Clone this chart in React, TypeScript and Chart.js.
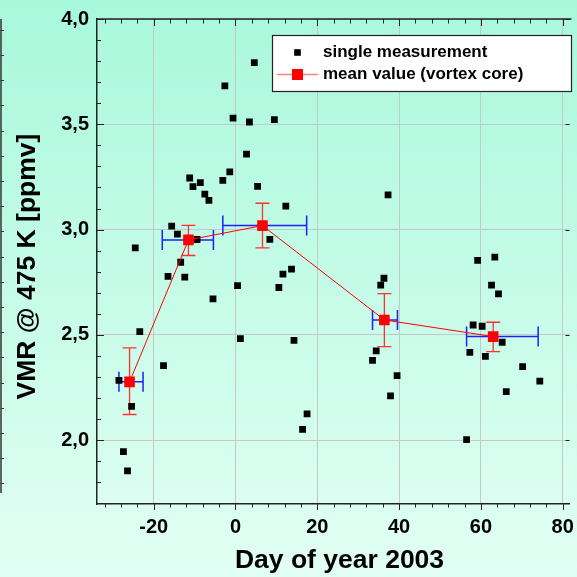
import React, { useEffect, useRef } from "react";
import { Chart, registerables } from "chart.js";

Chart.register(...registerables);

// ---- data ----
const singleDay = [
  -28.5, -27.4, -26.4, -25.4, -24.5, -23.4, -17.6, -16.5, -15.6, -14.2,
  -13.4, -12.4, -11.2, -10.4, -9.4, -8.6, -7.5, -6.5, -5.5, -3.1,
  -2.6, -1.4, -0.6, 0.5, 1.2, 2.7, 3.4, 4.6, 5.4, 8.4,
  9.5, 10.6, 11.6, 12.3, 13.7, 14.3, 16.4, 17.5, 33.5, 34.4,
  35.5, 36.3, 37.3, 37.9, 39.5, 56.5, 57.3, 58.1, 59.2, 60.3,
  61.1, 62.6, 63.4, 64.3, 65.2, 66.2, 70.2, 74.4,
];
const singleVmr = [
  2.284, 1.946, 1.854, 2.161, 2.913, 2.516, 2.354, 2.778, 3.016, 2.978,
  2.845, 2.774, 3.245, 3.204, 2.953, 3.223, 3.168, 3.139, 2.671, 3.234,
  3.682, 3.274, 3.529, 2.734, 2.482, 3.358, 3.511, 3.793, 3.205, 2.954,
  3.522, 2.725, 2.789, 3.111, 2.812, 2.474, 2.051, 2.125, 2.379, 2.424,
  2.736, 2.769, 3.165, 2.21, 2.307, 2.003, 2.417, 2.547, 2.854, 2.541,
  2.398, 2.736, 2.869, 2.695, 2.465, 2.231, 2.349, 2.28,
];

const meanDay = [-25.9, -11.5, 6.6, 36.4, 63.0];
const meanVmr = [2.277, 2.951, 3.019, 2.571, 2.492];
const meanVmrLow = [2.122, 2.877, 2.913, 2.444, 2.421];
const meanVmrHigh = [2.438, 3.02, 3.125, 2.696, 2.56];
const meanDayLow = [-28.5, -17.9, -3.1, 33.5, 56.5];
const meanDayHigh = [-22.6, -5.4, 17.4, 39.6, 74.0];

const xTicks = [-20, 0, 20, 40, 60, 80];
const yTicks = [2.0, 2.5, 3.0, 3.5, 4.0];
const xMinorStep = 4;
const yMinorStep = 0.1;
const xMin = -33.86;
const xMax = 81.66;
const yMin = 1.697;
const yMax = 4.0;

const seriesLabels = ["single measurement", "mean value (vortex core)"];
const xTitle = "Day of year 2003";
const yTitle = "VMR @ 475 K [ppmv]";

const FONT = "'Liberation Sans', Arial, Helvetica, sans-serif";
const AXIS_COLOR = "#222222";
const GRID_COLOR = "#c4c8c6";

const backgroundPlugin = {
  id: "bgGradient",
  beforeDraw(chart: any) {
    const { ctx, width, height } = chart;
    const g = ctx.createLinearGradient(0, 0, 0, height);
    g.addColorStop(0, "#a8f8dc");
    g.addColorStop(1, "#e2fff4");
    ctx.save();
    ctx.fillStyle = g;
    ctx.fillRect(0, 0, width, height);
    ctx.restore();
  },
};

const errorBarPlugin = {
  id: "errorBars",
  beforeDatasetsDraw(chart: any) {
    const { ctx } = chart;
    const xs = chart.scales.x;
    const ys = chart.scales.y;
    ctx.save();
    // horizontal (blue)
    ctx.strokeStyle = "#1f1fff";
    ctx.lineWidth = 1.5;
    for (let i = 0; i < meanDay.length; i++) {
      const y = ys.getPixelForValue(meanVmr[i]);
      const x1 = xs.getPixelForValue(meanDayLow[i]);
      const x2 = xs.getPixelForValue(meanDayHigh[i]);
      ctx.beginPath();
      ctx.moveTo(x1, y);
      ctx.lineTo(x2, y);
      ctx.moveTo(x1, y - 10);
      ctx.lineTo(x1, y + 10);
      ctx.moveTo(x2, y - 10);
      ctx.lineTo(x2, y + 10);
      ctx.stroke();
    }
    // vertical (red)
    ctx.strokeStyle = "#ff3030";
    ctx.lineWidth = 1.3;
    for (let i = 0; i < meanDay.length; i++) {
      const x = xs.getPixelForValue(meanDay[i]);
      const y1 = ys.getPixelForValue(meanVmrLow[i]);
      const y2 = ys.getPixelForValue(meanVmrHigh[i]);
      ctx.beginPath();
      ctx.moveTo(x, y1);
      ctx.lineTo(x, y2);
      ctx.moveTo(x - 7, y1);
      ctx.lineTo(x + 7, y1);
      ctx.moveTo(x - 7, y2);
      ctx.lineTo(x + 7, y2);
      ctx.stroke();
    }
    ctx.restore();
  },
};

const decorPlugin = {
  id: "decor",
  afterDraw(chart: any) {
    const { ctx, chartArea } = chart;
    const xs = chart.scales.x;
    const ys = chart.scales.y;
    const { left, right, top, bottom } = chartArea;
    ctx.save();
    ctx.strokeStyle = AXIS_COLOR;
    // top border
    ctx.lineWidth = 1.5;
    ctx.beginPath();
    ctx.moveTo(left, top);
    ctx.lineTo(right + 2, top);
    ctx.stroke();

    ctx.lineWidth = 1;
    // x ticks (minor + major)
    const xStart = Math.ceil(xMin / xMinorStep) * xMinorStep;
    for (let v = xStart; v <= xMax + 1e-9; v += xMinorStep) {
      const major = Math.abs(v % 20) < 1e-9;
      const px = Math.round(xs.getPixelForValue(v)) + 0.5;
      ctx.beginPath();
      ctx.moveTo(px, bottom);
      ctx.lineTo(px, bottom + (major ? 6 : 3.5));
      ctx.moveTo(px, top);
      ctx.lineTo(px, top + (major ? 7 : 4.5));
      ctx.stroke();
    }
    // y ticks (minor + major), inward on left
    const yStart = Math.ceil(yMin / yMinorStep - 1e-9) * yMinorStep;
    for (let v = yStart; v <= yMax + 1e-9; v += yMinorStep) {
      const r = Math.round(v * 10) / 10;
      const major = Math.abs(r * 2 - Math.round(r * 2)) < 1e-6;
      const py = Math.round(ys.getPixelForValue(r)) + 0.5;
      ctx.beginPath();
      ctx.moveTo(left, py);
      ctx.lineTo(left + (major ? 7 : 4), py);
      ctx.stroke();
    }
    // right-edge ticks at major values
    for (const v of yTicks) {
      const py = Math.round(ys.getPixelForValue(v)) + 0.5;
      ctx.beginPath();
      ctx.moveTo(right - 4, py);
      ctx.lineTo(right, py);
      ctx.stroke();
    }

    // cropped neighbouring frame at far left
    ctx.lineWidth = 1.5;
    ctx.strokeStyle = "#333333";
    ctx.beginPath();
    ctx.moveTo(1, top);
    ctx.lineTo(1, 493);
    ctx.stroke();
    ctx.lineWidth = 1;
    for (let y = 29.8; y < 493; y += 25.2) {
      const py = Math.round(y) + 0.5;
      ctx.beginPath();
      ctx.moveTo(1, py);
      ctx.lineTo(4, py);
      ctx.stroke();
    }

    // axis titles
    ctx.fillStyle = "#000000";
    ctx.font = `bold 26.5px ${FONT}`;
    ctx.textAlign = "center";
    ctx.textBaseline = "middle";
    ctx.fillText(xTitle, 339.5, 561);
    ctx.save();
    ctx.translate(27.5, 266.5);
    ctx.rotate(-Math.PI / 2);
    ctx.fillText(yTitle, 0, 0);
    ctx.restore();

    // legend
    const bx = 272.5, by = 35.5, bw = 299, bh = 56;
    ctx.fillStyle = "#ffffff";
    ctx.fillRect(bx, by, bw, bh);
    ctx.strokeStyle = "#222222";
    ctx.lineWidth = 1.2;
    ctx.strokeRect(bx, by, bw, bh);

    const sym = 297.5;
    const y1 = 52.5;
    const y2 = 74.5;
    ctx.fillStyle = "#000000";
    ctx.fillRect(sym - 3.3, y1 - 3.3, 6.6, 6.6);

    ctx.strokeStyle = "#ff7f7f";
    ctx.lineWidth = 1.5;
    ctx.beginPath();
    ctx.moveTo(277, y2);
    ctx.lineTo(318, y2);
    ctx.stroke();
    ctx.fillStyle = "#ff0000";
    ctx.fillRect(sym - 5.5, y2 - 5.5, 11, 11);

    ctx.fillStyle = "#000000";
    ctx.font = `bold 17px ${FONT}`;
    ctx.textAlign = "left";
    ctx.textBaseline = "middle";
    const labels = chart.data.datasets.map((d: any) => d.label);
    ctx.fillText(labels[1], 323, y1);
    ctx.fillText(labels[0], 323, y2);
    ctx.restore();
  },
};

export default function App() {
  const ref = useRef<HTMLCanvasElement | null>(null);

  useEffect(() => {
    document.body.style.margin = "0";
    document.body.style.overflow = "hidden";
    const canvas = ref.current;
    if (!canvas) return;

    const chart = new Chart(canvas, {
      type: "scatter",
      data: {
        datasets: [
          {
            label: seriesLabels[1],
            data: meanDay.map((d, i) => ({ x: d, y: meanVmr[i] })),
            showLine: true,
            borderColor: "#ff0000",
            borderWidth: 1,
            backgroundColor: "#ff0000",
            pointStyle: "rect",
            pointRadius: 7.5,
            pointBorderWidth: 0,
            pointBackgroundColor: "#ff0000",
            tension: 0,
          },
          {
            label: seriesLabels[0],
            data: singleDay.map((d, i) => ({ x: d, y: singleVmr[i] })),
            showLine: false,
            backgroundColor: "#000000",
            borderColor: "#000000",
            pointStyle: "rect",
            pointRadius: 4.8,
            pointBorderWidth: 0,
            pointBackgroundColor: "#000000",
          },
        ],
      },
      options: {
        animation: false,
        responsive: false,
        devicePixelRatio: 1,
        layout: { padding: { top: 19, left: 0, right: 0, bottom: 0 } },
        plugins: {
          legend: { display: false },
          tooltip: { enabled: false },
        },
        scales: {
          x: {
            type: "linear",
            position: "bottom",
            min: xMin,
            max: xMax,
            afterBuildTicks: (s: any) => {
              s.ticks = xTicks.map((v) => ({ value: v }));
            },
            afterFit: (s: any) => {
              s.height = 73;
              s.paddingLeft = 0;
              s.paddingRight = 0;
            },
            grid: { color: GRID_COLOR, lineWidth: 1, drawTicks: false },
            border: { display: true, color: AXIS_COLOR, width: 1.5 },
            ticks: {
              color: "#000000",
              font: { family: FONT, size: 20, weight: "bold" },
              padding: 11,
              maxRotation: 0,
              autoSkip: false,
              callback: (v: any) => String(v),
            },
            title: { display: false, text: xTitle },
          },
          y: {
            type: "linear",
            position: "left",
            min: yMin,
            max: yMax,
            afterBuildTicks: (s: any) => {
              s.ticks = yTicks.map((v) => ({ value: v }));
            },
            afterFit: (s: any) => {
              s.width = 97;
              s.paddingTop = 0;
              s.paddingBottom = 0;
            },
            grid: { color: GRID_COLOR, lineWidth: 1, drawTicks: false },
            border: { display: true, color: AXIS_COLOR, width: 1.5 },
            ticks: {
              color: "#000000",
              font: { family: FONT, size: 20, weight: "bold" },
              padding: 8,
              autoSkip: false,
              callback: (v: any) => Number(v).toFixed(1).replace(".", ","),
            },
            title: { display: false, text: yTitle },
          },
        },
      } as any,
      plugins: [backgroundPlugin, errorBarPlugin, decorPlugin],
    });

    return () => chart.destroy();
  }, []);

  return (
    <div style={{ width: 577, height: 577 }}>
      <canvas ref={ref} width={577} height={577} style={{ display: "block" }} />
    </div>
  );
}
